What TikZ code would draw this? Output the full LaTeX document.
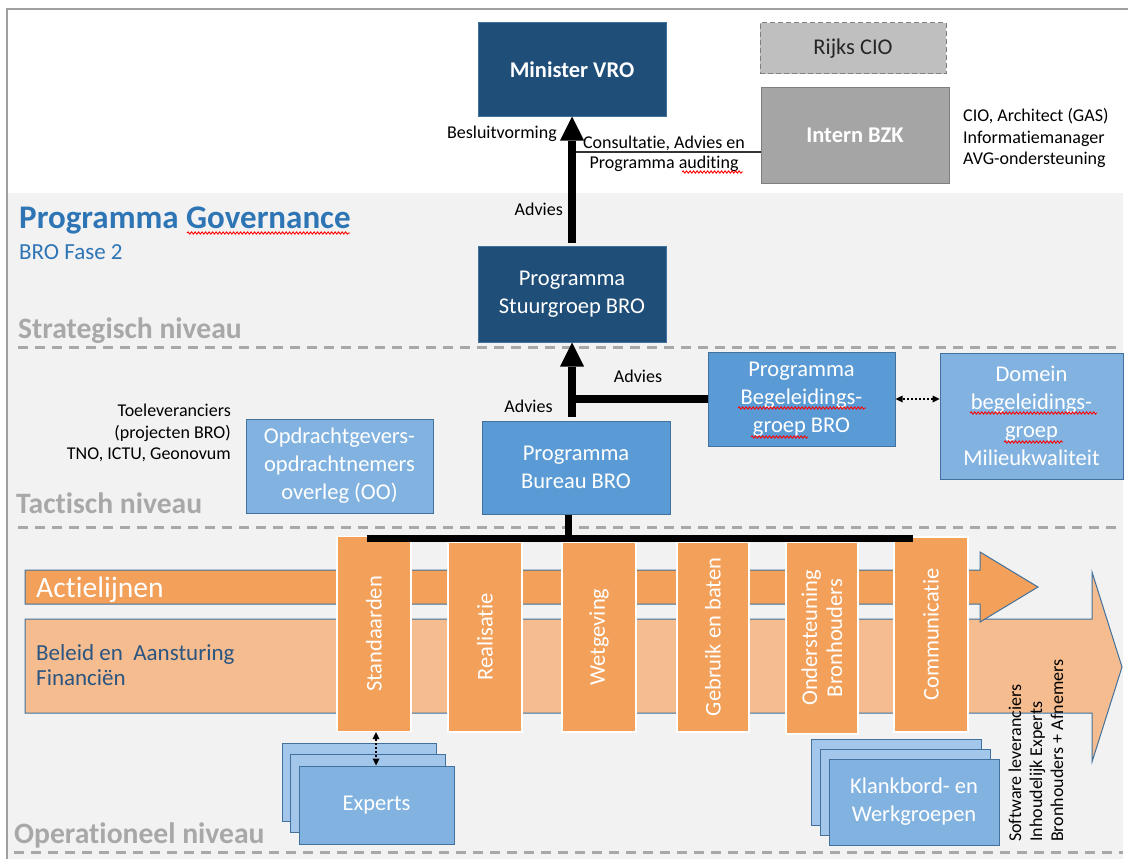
\documentclass[tikz,border=0pt]{standalone}
\usepackage{fontspec}
\setmainfont{Carlito}[Ligatures={NoCommon}]
\usetikzlibrary{arrows.meta,decorations.pathmorphing}
\definecolor{navy}{HTML}{1F4E79}
\definecolor{midblue}{HTML}{5B9BD5}
\definecolor{lightblue}{HTML}{82B3E0}
\definecolor{paleblue}{HTML}{A3C7EA}
\definecolor{bordblue}{HTML}{41719C}
\definecolor{orangeA}{HTML}{F2A05A}
\definecolor{orangeL}{HTML}{F5BD8F}
\definecolor{bggray}{HTML}{F2F2F2}
\definecolor{lvlgray}{HTML}{A8A8A8}
\definecolor{framegray}{HTML}{A0A0A0}
\definecolor{titleblue}{HTML}{2E75B6}
\definecolor{beleidblue}{HTML}{2B5581}
\definecolor{rijksfill}{HTML}{BFBFBF}
\definecolor{bzkfill}{HTML}{A5A5A5}
\definecolor{greyline}{HTML}{7F7F7F}
\newcommand\fsS{\fontsize{18}{21.5}\selectfont}
\newcommand\fsM{\fontsize{23}{27}\selectfont}
\newcommand\fsB{\fontsize{22.5}{28}\selectfont}
\newcommand\fsBel{\fontsize{23}{28}\selectfont}
\newcommand\fsL{\fontsize{29.6}{34}\selectfont}
\newcommand\fsT{\fontsize{33}{38}\selectfont}
\begin{document}
\begin{tikzpicture}[x=1pt,y=-1pt,
  box/.style={draw=bordblue, line width=1pt, fill=midblue, text=white, font=\fsB, align=center, inner sep=0pt},
  navybox/.style={box, fill=navy},
  lightbox/.style={box, fill=lightblue},
  rijksbox/.style={box, fill=rijksfill, draw=greyline, dash pattern=on 5pt off 3pt, text=black!85},
  bzkbox/.style={box, fill=bzkfill, draw=greyline, font=\fsB\bfseries},
  stackback/.style={box, fill=paleblue},
  stackfront/.style={box, fill=lightblue},
  col/.style={fill=orangeA, draw=white, line width=1.2pt, rotate=90, text=white, font=\fsB, align=center, inner sep=0pt},
  lvl/.style={text=lvlgray, font=\fsL\bfseries, anchor=base west, inner sep=0pt},
  small/.style={font=\fsS, inner sep=0pt, text=black},
  lvlline/.style={draw=lvlgray, line width=3pt, dash pattern=on 10pt off 7pt},
  bigarr/.style={line width=8pt, -{Triangle[length=24pt,width=24pt,line width=0pt]}},
  dotarr/.style={line width=1.2pt, dash pattern=on 2pt off 2pt, {Triangle[length=7pt,width=7pt,line width=0pt]}-{Triangle[length=7pt,width=7pt,line width=0pt]}},
  arrshape/.style={draw=bordblue, line width=1pt},
  squig/.style={draw=red, line width=0.9pt, decorate, decoration={snake, amplitude=1.1pt, segment length=3.5pt}}
]
\useasboundingbox (0,0) rectangle (1128,859);
\fill[white] (0,0) rectangle (1128,859);
\fill[bggray] (8,193) rectangle (1123,859);
\draw[framegray, line width=1.5pt] (7,859) -- (7,9) -- (1128,9);

% level separators
\draw[lvlline] (18,347) -- (1123,347);
\draw[lvlline] (18,527) -- (1123,527);
\draw[lvlline] (14,852) -- (1123,852);

% level labels and title
\node[lvl] (lstrat) at (18,338) {Strategisch niveau};
\node[lvl] (ltact) at (16,513) {Tactisch niveau};
\node[lvl] (loper) at (14,843) {Operationeel niveau};
\node[anchor=base west, inner sep=0pt, font=\fsT\bfseries, text=titleblue] (title) at (19,228) {Programma Governance};
\node[anchor=base west, inner sep=0pt, font=\fsM, text=titleblue] (fase) at (19,259) {BRO Fase 2};

% top boxes
\node[navybox, font=\fsB\bfseries, minimum width=188pt, minimum height=93pt] (min) at (572,69.5) {Minister VRO};
\node[rijksbox, minimum width=186pt, minimum height=51pt] (rijks) at (853,48.5) {Rijks CIO};
\node[bzkbox, minimum width=188pt, minimum height=95pt] (bzk) at (855,135.5) {Intern BZK};
\node[navybox, minimum width=188pt, minimum height=96pt] (stuur) at (572,294) {Programma\\Stuurgroep BRO};

% tactical boxes
\node[box, minimum width=187pt, minimum height=94pt] (begel) at (801.5,399) {Programma\\Begeleidings-\\groep BRO};
\node[lightbox, minimum width=183pt, minimum height=126pt] (domein) at (1031.5,416) {Domein\\begeleidings-\\groep\\Milieukwaliteit};
\node[box, minimum width=188pt, minimum height=93pt] (bureau) at (576,467.5) {Programma\\Bureau BRO};
\node[lightbox, minimum width=187pt, minimum height=94pt] (oo) at (339.5,466) {Opdrachtgevers-\\opdrachtnemers\\overleg (OO)};

% small texts
\node[small, anchor=base east] (besl) at (557,138) {Besluitvorming};
\node[small, anchor=base] (cons1) at (664,148) {Consultatie, Advies en};
\node[small, anchor=base] (cons2) at (664,168.5) {Programma auditing};
\node[small, anchor=base east] (adv1) at (563,215) {Advies};
\node[small, anchor=base] (adv2) at (638,382) {Advies};
\node[small, anchor=base] (adv3) at (528.5,412) {Advies};
\node[small, anchor=base west] (cio1) at (963,121.5) {CIO, Architect (GAS)};
\node[small, anchor=base west] (cio2) at (963,143) {Informatiemanager};
\node[small, anchor=base west] (cio3) at (963,164.5) {AVG-ondersteuning};
\node[small, anchor=base east] (toe1) at (231,416.5) {Toeleveranciers};
\node[small, anchor=base east] (toe2) at (231,438) {(projecten BRO)};
\node[small, anchor=base east] (toe3) at (231,459.5) {TNO, ICTU, Geonovum};

% spell-check squiggles
\draw[squig] (187,233) -- (350,233);
\draw[squig] (682,172) -- (743,172);
\draw[squig] (738,408) -- (866,408);
\draw[squig] (751,437) -- (808,437);
\draw[squig] (970,413) -- (1097,413);
\draw[squig] (1004,442) -- (1063,442);

% connectors top
\draw[bigarr] ([yshift=3pt]stuur.north) -- (min.south);
\draw[bigarr] ([yshift=4pt]bureau.north -| stuur.south) -- (stuur.south);
\draw[line width=8pt] (begel.west) -- (begel.west -| stuur.south);
\coordinate (consL) at (576,152);
\draw[line width=1.2pt, black!80] (consL) -- (consL -| bzk.west);
\draw[dotarr] (begel.east) -- (begel.east -| domein.west);

% big arrows
\draw[arrshape, fill=orangeL] (25,619) -- (1092,619) -- (1092,572) -- (1122,667) -- (1092,762) -- (1092,713) -- (25,713) -- cycle;
\draw[arrshape, fill=orangeA] (25,570) -- (980,570) -- (980,552) -- (1038,587) -- (980,622) -- (980,604) -- (25,604) -- cycle;
\node[anchor=base west, inner sep=0pt, font=\fsL, text=white] (actl) at (36,597) {Actielijnen};
\node[anchor=base west, inner sep=0pt, font=\fsBel, text=beleidblue] (bel1) at (36,660) {Beleid en\ \ Aansturing};
\node[anchor=base west, inner sep=0pt, font=\fsBel, text=beleidblue] (bel2) at (36,685) {Financiën};

% columns
\node[col, minimum width=195pt, minimum height=74pt] (std) at (374,634) {Standaarden};
\node[col, minimum width=190pt, minimum height=74pt] (real) at (485,637) {Realisatie};
\node[col, minimum width=190pt, minimum height=74pt] (wet) at (599,637) {Wetgeving};
\node[col, minimum width=190pt, minimum height=72pt] (geb) at (713,637) {Gebruik en baten};
\node[col, minimum width=192pt, minimum height=72pt, font=\fontsize{22.5}{25}\selectfont] (ond) at (822,638) {Ondersteuning\\Bronhouders};
\node[col, minimum width=195pt, minimum height=74pt] (com) at (931,634.5) {Communicatie};

% bar linking columns to Bureau
\coordinate (barL) at (367,538.5);
\coordinate (barR) at (913,538.5);
\draw[line width=7.5pt] (barL) -- (barR);
\draw[line width=7pt] ([xshift=-8pt]bureau.south) -- ([xshift=-8pt]bureau.south |- barL);

% stacks
\node[stackback, minimum width=154pt, minimum height=78pt] (exp1) at (359,782) {};
\node[stackback, minimum width=155pt, minimum height=78pt] (exp2) at (367.5,793) {};
\node[stackfront, minimum width=155pt, minimum height=78pt] (exp3) at (376.5,805) {Experts};
\node[stackback, minimum width=170pt, minimum height=86pt] (kl1) at (896,782) {};
\node[stackback, minimum width=170pt, minimum height=86pt] (kl2) at (905,792) {};
\node[stackfront, minimum width=170pt, minimum height=86pt] (kl3) at (914,802) {Klankbord- en\\Werkgroepen};
\draw[dotarr] ([xshift=2pt]std.west) -- ([xshift=2pt]std.west |- exp3.north);

% rotated stakeholder texts
\node[small, rotate=90, anchor=base west] (sw1) at (1021,842) {Software leveranciers};
\node[small, rotate=90, anchor=base west] (sw2) at (1042,842) {Inhoudelijk Experts};
\node[small, rotate=90, anchor=base west] (sw3) at (1063,842) {Bronhouders + Afnemers};
\end{tikzpicture}
\end{document}
